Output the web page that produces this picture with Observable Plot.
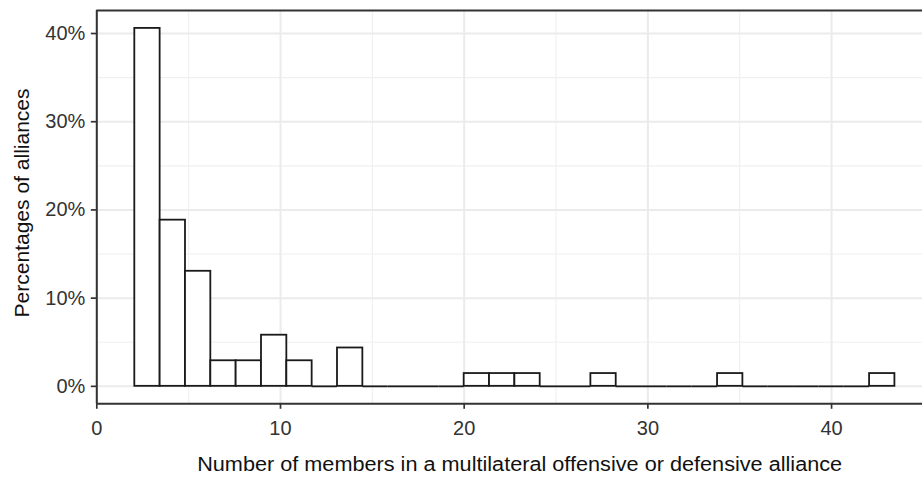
<!DOCTYPE html>
<html>
<head>
<meta charset="utf-8">
<script src="https://cdn.jsdelivr.net/npm/d3@7"></script>
<script src="https://cdn.jsdelivr.net/npm/@observablehq/plot@0.6"></script>
<style>
  html, body { margin: 0; padding: 0; background: #ffffff; }
  #chart svg { display: block; }
</style>
</head>
<body>
<div id="chart"></div>
<script>
// ---- Data (histogram of alliance sizes, 30 bins) ----
const binLower = [2.069, 3.448, 4.828, 6.207, 7.586, 8.966, 10.345, 11.724, 13.103, 14.483,
                  15.862, 17.241, 18.621, 20.000, 21.379, 22.759, 24.138, 25.517, 26.897, 28.276,
                  29.655, 31.034, 32.414, 33.793, 35.172, 36.552, 37.931, 39.310, 40.690, 42.069];
const binUpper = [3.448, 4.828, 6.207, 7.586, 8.966, 10.345, 11.724, 13.103, 14.483, 15.862,
                  17.241, 18.621, 20.000, 21.379, 22.759, 24.138, 25.517, 26.897, 28.276, 29.655,
                  31.034, 32.414, 33.793, 35.172, 36.552, 37.931, 39.310, 40.690, 42.069, 43.448];
const binCounts = [28, 13, 9, 2, 2, 4, 2, 0, 3, 0,
                   0, 0, 0, 1, 1, 1, 0, 0, 1, 0,
                   0, 0, 0, 1, 0, 0, 0, 0, 0, 1];
const totalAlliances = 69;

const xTicks = [0, 10, 20, 30, 40];
const xTickLabels = ["0", "10", "20", "30", "40"];
const xMinor = [5, 15, 25, 35];
const yTicks = [0, 10, 20, 30, 40];
const yTickLabels = ["0%", "10%", "20%", "30%", "40%"];
const yMinor = [5, 15, 25, 35];

const xTitle = "Number of members in a multilateral offensive or defensive alliance";
const yTitle = "Percentages of alliances";

const xDomain = [0, 44.95];
const yDomain = [-1.98, 42.61];

// ---- Build table ----
const bins = binCounts.map((c, i) => ({
  x1: binLower[i], x2: binUpper[i], base: 0, pct: c / totalAlliances * 100
}));
const filledBins = bins.filter(d => d.pct > 0);
const emptyBins = bins.filter(d => d.pct === 0);

const W = 922, H = 477;
const mL = 96.3, mR = 0, mT = 10, mB = 73.7;

const chart = Plot.plot({
  width: W, height: H,
  marginLeft: mL, marginRight: mR, marginTop: mT, marginBottom: mB,
  x: { domain: xDomain, axis: null },
  y: { domain: yDomain, axis: null },
  style: { fontFamily: "'Liberation Sans', Arial, Helvetica, sans-serif", fontSize: "20px", background: "#ffffff", color: "#333333" },
  marks: [
    // grid
    Plot.ruleX(xMinor, { stroke: "#f0f0f0", strokeWidth: 1.1 }),
    Plot.ruleY(yMinor, { stroke: "#f0f0f0", strokeWidth: 1.1 }),
    Plot.ruleX(xTicks, { stroke: "#ebebeb", strokeWidth: 2 }),
    Plot.ruleY(yTicks, { stroke: "#ebebeb", strokeWidth: 2 }),
    // histogram
    Plot.ruleY(emptyBins, { x1: "x1", x2: "x2", y: "base", stroke: "#1a1a1a", strokeWidth: 1.8 }),
    Plot.rect(filledBins, { x1: "x1", x2: "x2", y1: "base", y2: "pct", fill: "#ffffff", stroke: "#1a1a1a", strokeWidth: 1.8 }),
    // panel border (left, top, bottom; right side is outside the picture)
    Plot.ruleX([xDomain[0]], { stroke: "#333333", strokeWidth: 2 }),
    Plot.ruleY([yDomain[0], yDomain[1]], { stroke: "#333333", strokeWidth: 2 }),
    // axes
    Plot.axisX(xTicks, {
      anchor: "bottom", tickSize: 5.5, tickPadding: 11.2, strokeWidth: 1.7,
      color: "#333333", label: null,
      tickFormat: d => xTickLabels[xTicks.indexOf(d)]
    }),
    Plot.axisY(yTicks, {
      anchor: "left", tickSize: 5.5, tickPadding: 6, strokeWidth: 1.7,
      color: "#333333", label: null,
      tickFormat: d => yTickLabels[yTicks.indexOf(d)]
    }),
    // axis titles
    Plot.text([xTitle], {
      frameAnchor: "bottom", textAnchor: "middle", lineAnchor: "middle",
      dx: 10, dy: 60.3, fill: "#111111", fontSize: 20
    }),
    Plot.text([yTitle], {
      frameAnchor: "left", textAnchor: "middle", lineAnchor: "middle", rotate: -90,
      dx: -74.5, dy: -4.2, fill: "#111111", fontSize: 20
    })
  ]
});

document.getElementById("chart").appendChild(chart);

// stretch titles to the reference's text extents
const targets = new Map([[xTitle, 645], [yTitle, 229]]);
chart.querySelectorAll("text").forEach(t => {
  const s = t.textContent;
  if (targets.has(s)) {
    t.setAttribute("textLength", targets.get(s));
    t.setAttribute("lengthAdjust", "spacingAndGlyphs");
  }
});
</script>
</body>
</html>
